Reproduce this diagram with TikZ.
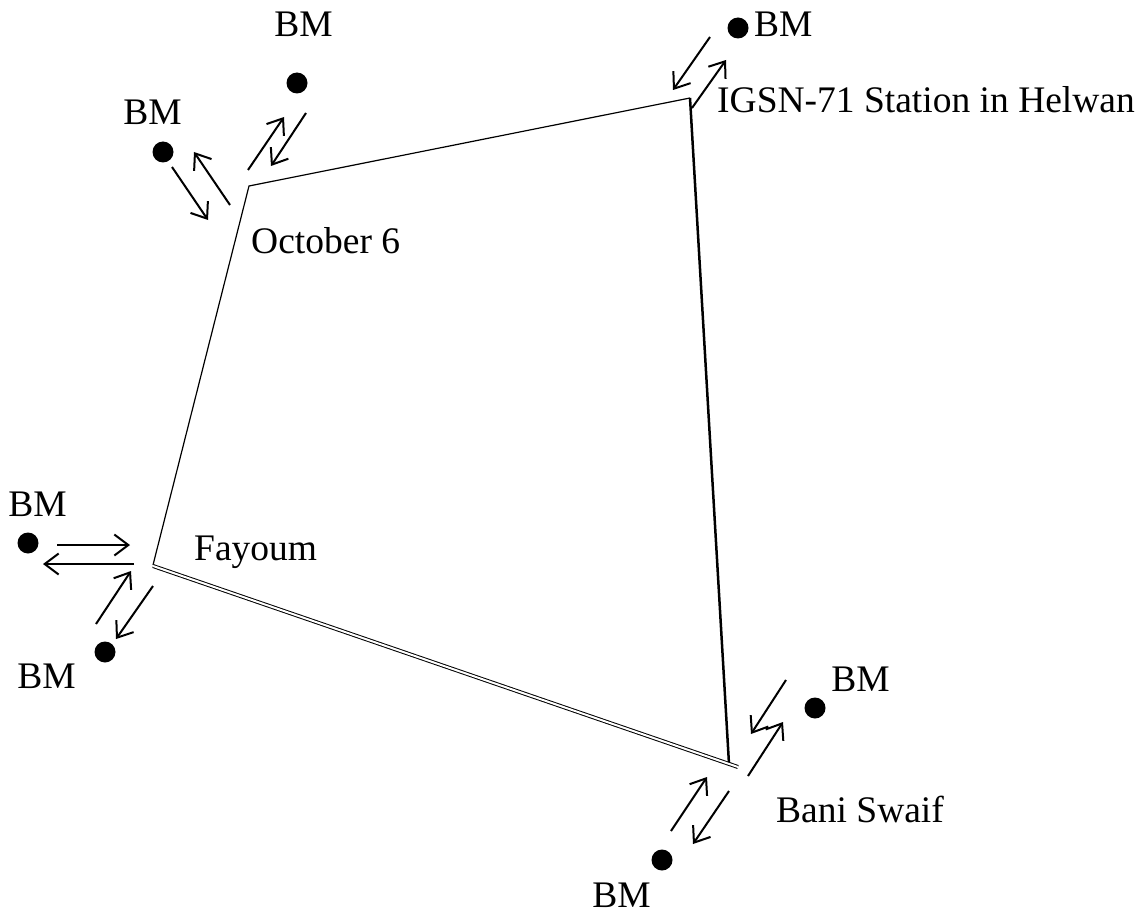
\documentclass[tikz,border=0pt]{standalone}
\usepackage{fontspec}
\setmainfont{Liberation Serif}
\usetikzlibrary{arrows.meta}
\begin{document}
\begin{tikzpicture}[x=1pt,y=-1pt,
  lbl/.style={inner sep=0pt, font=\fontsize{37.5}{44}\selectfont},
  bmdot/.style={circle, fill=black, minimum size=21pt, inner sep=0pt},
  leg/.style={line width=1.2pt},
  legthick/.style={line width=2.5pt},
  legdouble/.style={double, double distance=2pt, line width=1pt},
  obsarrow/.style={line width=2pt, -{Straight Barb[length=14pt,width=21pt,line width=2pt]}}
]
\useasboundingbox (0,0) rectangle (1141,915);

% stations
\coordinate (oct) at (249,186);
\coordinate (hel) at (690,98);
\coordinate (fay) at (153,565);
\coordinate (fayd) at (153,566);
\coordinate (ban) at (729,764);
\coordinate (bane) at (738,767);

\draw[leg] (fay) -- (oct) -- (hel);
\draw[legthick] (hel) -- (ban);
\draw[legdouble] (fayd) -- (bane);

% benchmark dots
\node[bmdot] (d1) at (297,83) {};
\node[bmdot] (d2) at (163,152) {};
\node[bmdot] (d3) at (738,28) {};
\node[bmdot] (d4) at (28,543) {};
\node[bmdot] (d5) at (105,652) {};
\node[bmdot] (d6) at (815,708) {};
\node[bmdot] (d7) at (662,860) {};

% labels
\node[lbl, anchor=base] (l1) at (303.5,37) {BM};
\node[lbl, anchor=base] (l2) at (152.5,125) {BM};
\node[lbl, anchor=base west] (l3) at (754,37) {BM};
\node[lbl, anchor=base] (l4) at (37.5,516) {BM};
\node[lbl, anchor=base] (l5) at (46.5,688) {BM};
\node[lbl, anchor=base] (l6) at (860.5,691) {BM};
\node[lbl, anchor=base] (l7) at (621.5,907) {BM};
\node[lbl, anchor=base west] (toct) at (251,253) {October 6};
\node[lbl, anchor=base west] (thel) at (717,113) {IGSN-71 Station in Helwan};
\node[lbl, anchor=base west] (tfay) at (194,560) {Fayoum};
\node[lbl, anchor=base west] (tban) at (776,822) {Bani Swaif};

% arrow end points
\coordinate (a1s) at (172,167); \coordinate (a1e) at (208,220);
\coordinate (a2s) at (230,205); \coordinate (a2e) at (194,152);
\coordinate (a3s) at (248,170); \coordinate (a3e) at (284,117);
\coordinate (a4s) at (306,113); \coordinate (a4e) at (271,166);
\coordinate (a5s) at (710,37);  \coordinate (a5e) at (673,90);
\coordinate (a6s) at (692,108); \coordinate (a6e) at (726,60);
\coordinate (a7s) at (57,545);  \coordinate (a7e) at (130,545);
\coordinate (a8s) at (134,564); \coordinate (a8e) at (43,564);
\coordinate (a9s) at (96,624);  \coordinate (a9e) at (131,571);
\coordinate (a10s) at (153,586); \coordinate (a10e) at (116,639);
\coordinate (a11s) at (786,680); \coordinate (a11e) at (751,734);
\coordinate (a12s) at (748,776); \coordinate (a12e) at (783,722);
\coordinate (a13s) at (671,831); \coordinate (a13e) at (707,777);
\coordinate (a14s) at (729,791); \coordinate (a14e) at (693,844);

\foreach \i in {1,...,14} {
  \draw[obsarrow] (a\i s) -- (a\i e);
}
\end{tikzpicture}
\end{document}
